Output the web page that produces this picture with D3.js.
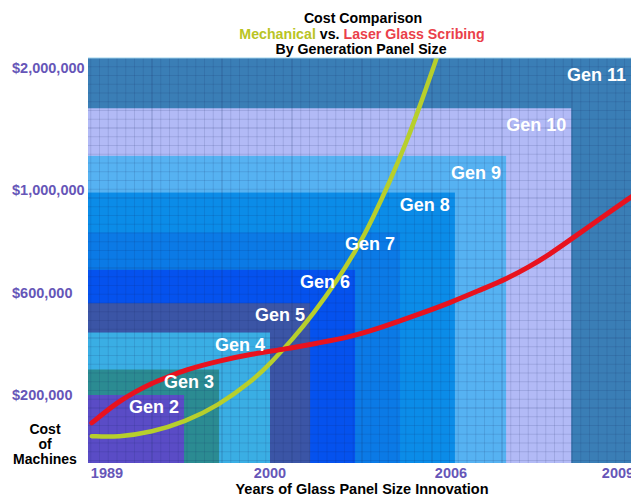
<!DOCTYPE html>
<html>
<head>
<meta charset="utf-8">
<script src="https://cdn.jsdelivr.net/npm/d3@7"></script>
<style>
  html, body { margin: 0; padding: 0; background: #ffffff; }
  svg { display: block; font-family: "Liberation Sans", Arial, sans-serif; font-weight: bold; }
</style>
</head>
<body>
<svg id="chart" width="631" height="497"></svg>
<script>
// ---------- data ----------
const genNames = ["Gen 2", "Gen 3", "Gen 4", "Gen 5", "Gen 6", "Gen 7", "Gen 8", "Gen 9", "Gen 10", "Gen 11"];
const genEndYear = [1994.2, 1996.56, 2000.0, 2001.33, 2002.82, 2004.31, 2006.07, 2006.99, 2008.16, 2009.25];
const genTopCost = [200000, 300000, 445000, 560000, 690000, 835000, 990000, 1280000, 1670000, 2082000];

const yTickValues = [200000, 600000, 1000000, 2000000];
const yTickLabels = ["$200,000", "$600,000", "$1,000,000", "$2,000,000"];
const xTickValues = [1989, 2000, 2006, 2009];
const xTickLabels = ["1989", "2000", "2006", "2009"];

const laserYears = [1988.2, 1988.9, 1989.74, 1990.89, 1992.04, 1993.12, 1994.26, 1996.49, 1998.79, 2000.5, 2001.59, 2002.65, 2003.75, 2004.87, 2005.96, 2006.57, 2006.99, 2007.4, 2007.78, 2008.19, 2008.8, 2009.25];
const laserCost  = [118000, 150000, 179000, 212000, 247000, 271000, 298000, 333000, 361000, 380000, 404000, 427000, 467000, 514000, 561000, 616000, 654000, 701000, 751000, 814000, 907000, 975000];

const mechYears = [1988.2, 1989.74, 1992.04, 1994.26, 1996.49, 1998.79, 2000.0, 2000.76, 2001.43, 2002.22, 2002.92, 2003.41, 2003.98, 2004.54, 2004.97, 2005.47, 2005.56];
const mechCost  = [79000, 76000, 91000, 121000, 168000, 255000, 322000, 420000, 518000, 647000, 779000, 891000, 1074000, 1402000, 1689000, 2041000, 2110000];

const titleLines = ["Cost Comparison", "By Generation Panel Size"];
const yAxisTitle = ["Cost", "of", "Machines"];
const xAxisTitle = "Years of Glass Panel Size Innovation";

// ---------- styles ----------
const genColors = ["#5a4cc6", "#2b8b92", "#3aaee4", "#3b55a6", "#0552ee", "#0b7ae6", "#0b8ce8", "#56b2f2", "#b2baf6", "#3a7eb6"];
const laserColor = "#e8121e";
const mechColor = "#b7cf2c";
const tickColor = "#6656b8";

// ---------- scales ----------
const W = 631, H = 497;
const x = d3.scaleLinear().domain([1988, 1989, 2000, 2006, 2009]).range([88, 107, 270, 451, 618]);
const y = d3.scaleLinear().domain([0, 200000, 600000, 1000000, 2000000]).range([463, 395, 293, 190, 68]);

const svg = d3.select("#chart");
const plotLeft = x(1988), plotBottom = y(0), plotTop = y(d3.max(genTopCost));

svg.append("defs").append("clipPath").attr("id", "plotClip")
  .append("rect").attr("x", plotLeft).attr("y", plotTop).attr("width", W - plotLeft).attr("height", plotBottom - plotTop);

const plot = svg.append("g").attr("clip-path", "url(#plotClip)");

// generation rectangles, largest first
const gens = genNames.map((n, i) => ({ name: n, end: genEndYear[i], top: genTopCost[i], color: genColors[i] }));
plot.selectAll("rect.gen").data(gens.slice().reverse()).join("rect")
  .attr("class", "gen")
  .attr("x", plotLeft)
  .attr("y", d => y(d.top))
  .attr("width", d => x(d.end) - plotLeft)
  .attr("height", d => plotBottom - y(d.top))
  .attr("fill", d => d.color);

// fine grid
const cell = 8.75;
const gx = d3.range(152 - cell * 8, W, cell).filter(v => v >= plotLeft);
const gy = d3.range(plotTop, plotBottom, cell);
plot.append("g").selectAll("line").data(gx).join("line")
  .attr("x1", d => d).attr("x2", d => d).attr("y1", plotTop).attr("y2", plotBottom)
  .attr("stroke", "#1a2a60").attr("stroke-opacity", d => (Math.round((d - 152) / cell) % 8 === 0 ? 0.28 : 0.13))
  .attr("stroke-width", 1);
plot.append("g").selectAll("line").data(gy).join("line")
  .attr("x1", plotLeft).attr("x2", W).attr("y1", d => d).attr("y2", d => d)
  .attr("stroke", "#1a2a60").attr("stroke-opacity", (d, i) => (i % 8 === 0 ? 0.22 : 0.13))
  .attr("stroke-width", 1);

// top edge highlight
svg.append("line").attr("x1", plotLeft).attr("x2", W).attr("y1", plotTop).attr("y2", plotTop)
  .attr("stroke", "#9fd6ef").attr("stroke-width", 1.2);

// curves
const line = d3.line().x(d => x(d[0])).y(d => y(d[1])).curve(d3.curveBasis);
plot.append("path").datum(mechYears.map((v, i) => [v, mechCost[i]]))
  .attr("d", line).attr("fill", "none").attr("stroke", mechColor).attr("stroke-width", 4.5).attr("stroke-linecap", "round");
plot.append("path").datum(laserYears.map((v, i) => [v, laserCost[i]]))
  .attr("d", line).attr("fill", "none").attr("stroke", laserColor).attr("stroke-width", 5).attr("stroke-linecap", "round");

// generation labels
svg.append("g").selectAll("text").data(gens).join("text")
  .attr("x", d => Math.min(x(d.end), W) - 5)
  .attr("y", d => y(d.top) + 18 + (d.top > 1000000 ? 5 : 0))
  .attr("text-anchor", "end")
  .attr("fill", "#ffffff")
  .attr("font-size", 18)
  .text(d => d.name);

// y axis labels
svg.append("g").selectAll("text").data(yTickValues).join("text")
  .attr("x", 12).attr("y", d => y(d) + 5)
  .attr("fill", tickColor).attr("font-size", 14.5)
  .text((d, i) => yTickLabels[i]);

// x axis labels
svg.append("g").selectAll("text").data(xTickValues).join("text")
  .attr("x", d => x(d)).attr("y", 478)
  .attr("text-anchor", "middle")
  .attr("fill", tickColor).attr("font-size", 14.5)
  .text((d, i) => xTickLabels[i]);

// y axis title
svg.append("g").selectAll("text").data(yAxisTitle).join("text")
  .attr("x", 45).attr("y", (d, i) => 434 + i * 15)
  .attr("text-anchor", "middle").attr("fill", "#000").attr("font-size", 14)
  .text(d => d);

// x axis title
svg.append("text").attr("x", 362).attr("y", 494).attr("text-anchor", "middle")
  .attr("fill", "#000").attr("font-size", 14.5).text(xAxisTitle);

// title
svg.append("text").attr("x", 363).attr("y", 23).attr("text-anchor", "middle")
  .attr("fill", "#000").attr("font-size", 14.2).text(titleLines[0]);
const t2 = svg.append("text").attr("x", 362).attr("y", 38.5).attr("text-anchor", "middle").attr("font-size", 14.2);
t2.append("tspan").attr("fill", "#b9c424").text("Mechanical");
t2.append("tspan").attr("fill", "#000").text(" vs. ");
t2.append("tspan").attr("fill", "#ea3f4a").text("Laser Glass Scribing");
svg.append("text").attr("x", 361).attr("y", 53.5).attr("text-anchor", "middle")
  .attr("fill", "#000").attr("font-size", 14.2).text(titleLines[1]);
</script>
</body>
</html>
